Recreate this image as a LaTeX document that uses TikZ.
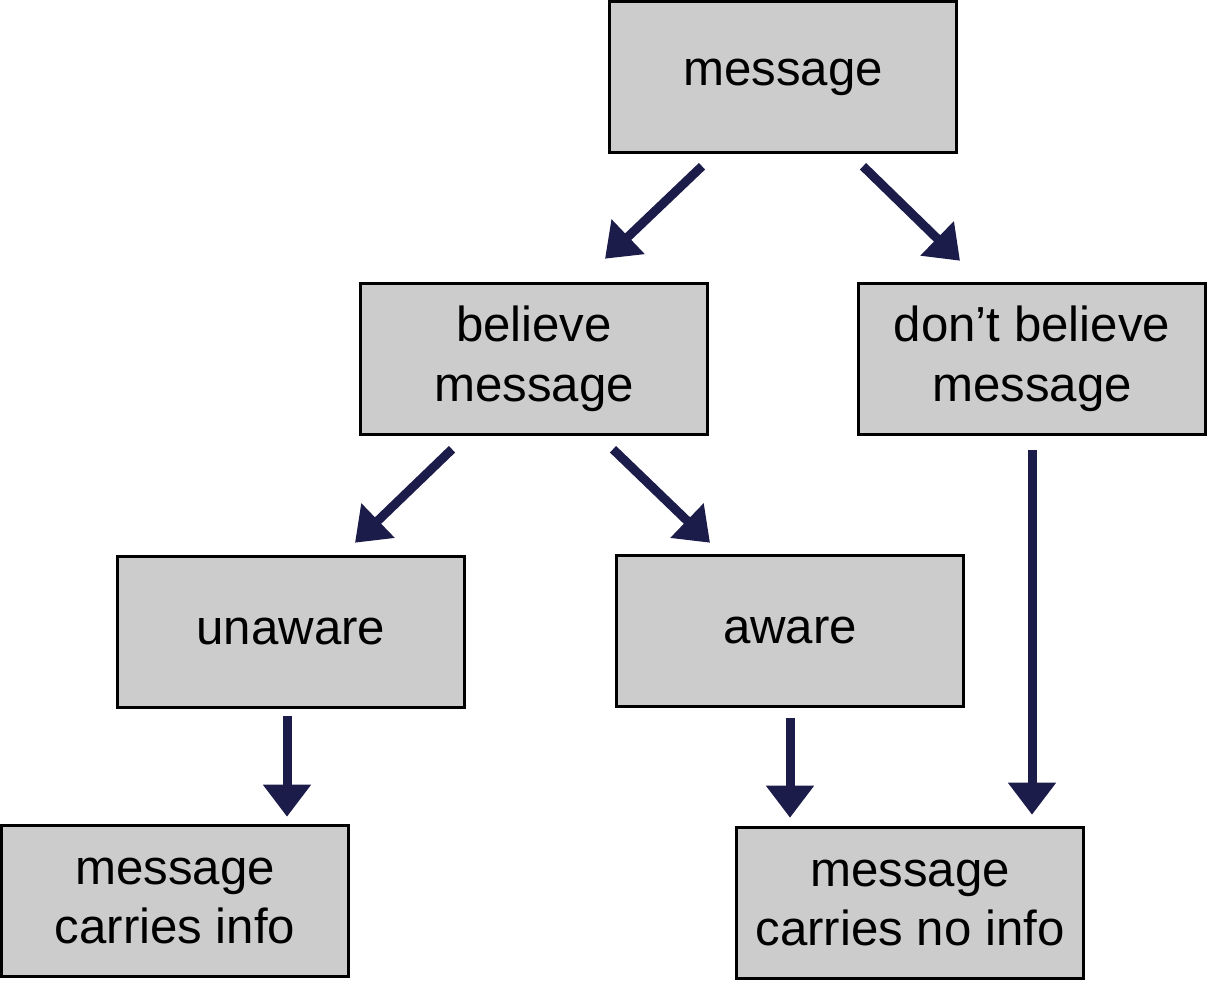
\documentclass[tikz,border=0pt]{standalone}
\usepackage{fontspec}
\setmainfont{Liberation Sans}
\usepackage{tikz}
\usepackage{xcolor}
\usetikzlibrary{arrows.meta}
\usetikzlibrary{positioning}
\definecolor{arrownavy}{RGB}{28,28,74}
\definecolor{boxgray}{RGB}{204,204,204}
\tikzstyle{choice} = [rectangle, minimum width=6.94cm, minimum height=3.02cm, text centered, draw=black, line width=2pt, fill=boxgray, font={\fontsize{28}{34}\selectfont}]
\tikzstyle{arrow} = [line width=0.18cm, draw=arrownavy, -{Triangle[width=0.92cm,length=0.64cm]}]

\begin{document}
\begin{tikzpicture}[node distance=2cm]
        \useasboundingbox (0,0) rectangle (24.16,-19.64);
        \node (msg) [choice, align=center] at (15.66,-1.54) {message};
        \node (believe) [choice, below of=msg, yshift=-3.64cm, xshift=-4.98cm, align=center] {believe\\message};
        \node (dontbelieve) [choice, below of=msg, yshift=-3.64cm, xshift=4.98cm, align=center] {don’t believe\\message};
        \node (unaware) [choice, below of=believe, yshift=-3.46cm, xshift=-4.86cm, align=center] {unaware};
        \node (aware) [choice, below of=believe, yshift=-3.44cm, xshift=5.12cm, align=center] {aware};
        \node (info) [choice, below of=unaware, yshift=-3.38cm, xshift=-2.32cm, align=center] {message\\carries info};
        \node (noinfo) [choice, below of=aware, yshift=-3.44cm, xshift=2.4cm, align=center] {message\\carries no info};

        \draw [arrow] ([xshift=-1.62cm, yshift=-0.24cm]msg.south) -- ([xshift=1.42cm, yshift=0.46cm]believe.north);
        \draw [arrow] ([xshift=1.6cm, yshift=-0.24cm]msg.south) -- ([xshift=-1.44cm, yshift=0.42cm]dontbelieve.north);
        \draw [arrow] ([xshift=-1.64cm, yshift=-0.26cm]believe.south) -- ([xshift=1.28cm, yshift=0.24cm]unaware.north);
        \draw [arrow] ([xshift=1.58cm, yshift=-0.26cm]believe.south) -- ([xshift=-1.6cm, yshift=0.22cm]aware.north);
        \draw [arrow] ([xshift=-0.08cm, yshift=-0.14cm]unaware.south) -- ([xshift=-0.08cm, yshift=0.14cm]unaware.south |- info.north);
        \draw [arrow] ([yshift=-0.2cm]aware.south) -- ([yshift=0.16cm]aware.south |- noinfo.north);
        \draw [arrow] ([yshift=-0.28cm]dontbelieve.south) -- ([yshift=0.22cm]dontbelieve.south |- noinfo.north);
    \end{tikzpicture}
\end{document}
